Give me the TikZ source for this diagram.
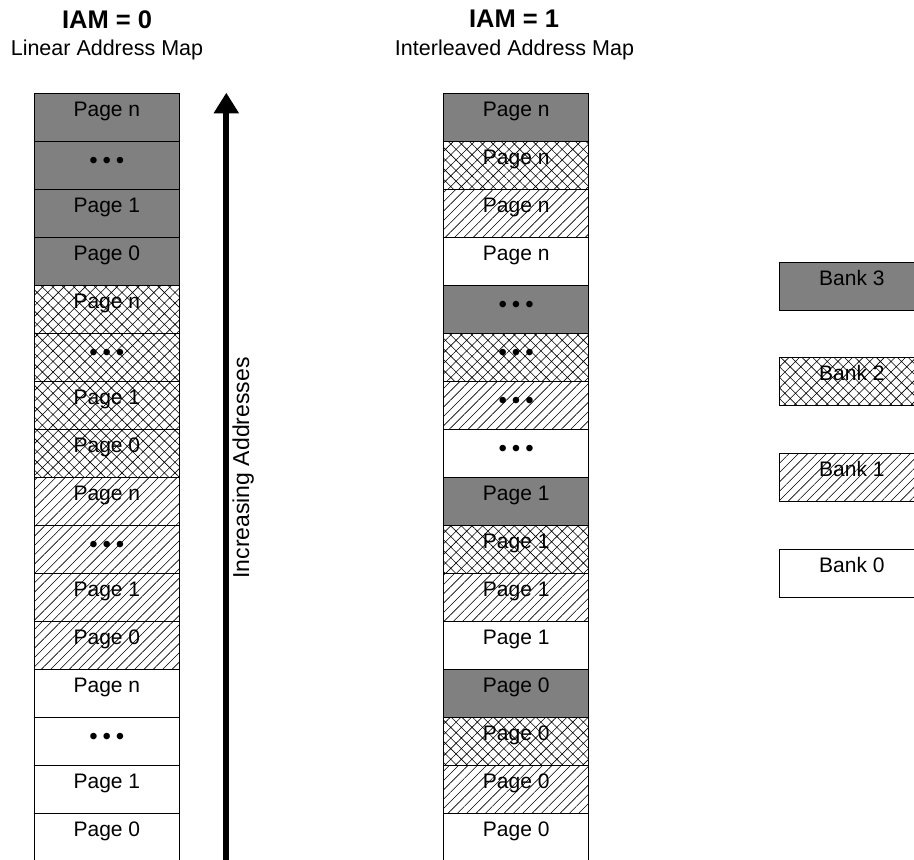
\documentclass[tikz,border=0pt]{standalone}
\usepackage{fontspec}
\setmainfont{Liberation Sans}
\usetikzlibrary{patterns.meta,arrows.meta}
\definecolor{bankgray}{HTML}{808080}
\newcommand\mydots{{\fontsize{24}{26}\selectfont\raisebox{-3.5pt}{•\kern4.9pt•\kern4.9pt•}}}
\begin{document}
\begin{tikzpicture}[x=1pt,y=-1pt,
 cell/.style={draw=black, line width=0.8pt, minimum width=145pt, minimum height=48pt, inner sep=0pt, anchor=north west, text height=10pt, text depth=12pt, font=\fontsize{21}{25}\selectfont},
 b3/.style={cell, fill=bankgray},
 b2/.style={cell, pattern={Hatch[angle=45,distance=7.5pt,line width=0.6pt]}},
 b1/.style={cell, pattern={Lines[angle=45,distance=6.6pt,line width=0.6pt]}},
 b0/.style={cell, fill=white},
 title/.style={anchor=base, inner sep=0pt, font=\bfseries\fontsize{25.5}{30}\selectfont},
 subtitle/.style={anchor=base, inner sep=0pt, font=\fontsize{21.5}{26}\selectfont},
]
\useasboundingbox (0,0) rectangle (914,860);

% titles
\node[title] (t0) at (107,28) {IAM = 0};
\node[subtitle] (s0) at (107,55) {Linear Address Map};
\node[title] (t1) at (514,27.5) {IAM = 1};
\node[subtitle] (s1) at (514.5,55) {Interleaved Address Map};

% left column (linear)
\node[b3] (L1) at (34,93.3) {Page n};
\node[b3] (L2) at (34,141.3) {\mydots};
\node[b3] (L3) at (34,189.3) {Page 1};
\node[b3] (L4) at (34,237.3) {Page 0};
\node[b2] (L5) at (34,285.3) {Page n};
\node[b2] (L6) at (34,333.3) {\mydots};
\node[b2] (L7) at (34,381.3) {Page 1};
\node[b2] (L8) at (34,429.3) {Page 0};
\node[b1] (L9) at (34,477.3) {Page n};
\node[b1] (L10) at (34,525.3) {\mydots};
\node[b1] (L11) at (34,573.3) {Page 1};
\node[b1] (L12) at (34,621.3) {Page 0};
\node[b0] (L13) at (34,669.3) {Page n};
\node[b0] (L14) at (34,717.3) {\mydots};
\node[b0] (L15) at (34,765.3) {Page 1};
\node[b0] (L16) at (34,813.3) {Page 0};

% middle column (interleaved)
\node[b3] (M1) at (443.3,93.3) {Page n};
\node[b2] (M2) at (443.3,141.3) {Page n};
\node[b1] (M3) at (443.3,189.3) {Page n};
\node[b0] (M4) at (443.3,237.3) {Page n};
\node[b3] (M5) at (443.3,285.3) {\mydots};
\node[b2] (M6) at (443.3,333.3) {\mydots};
\node[b1] (M7) at (443.3,381.3) {\mydots};
\node[b0] (M8) at (443.3,429.3) {\mydots};
\node[b3] (M9) at (443.3,477.3) {Page 1};
\node[b2] (M10) at (443.3,525.3) {Page 1};
\node[b1] (M11) at (443.3,573.3) {Page 1};
\node[b0] (M12) at (443.3,621.3) {Page 1};
\node[b3] (M13) at (443.3,669.3) {Page 0};
\node[b2] (M14) at (443.3,717.3) {Page 0};
\node[b1] (M15) at (443.3,765.3) {Page 0};
\node[b0] (M16) at (443.3,813.3) {Page 0};

% legend
\node[b3] (B3) at (779,261.7) {Bank 3};
\node[b2] (B2) at (779,357.3) {Bank 2};
\node[b1] (B1) at (779,453.3) {Bank 1};
\node[b0] (B0) at (779,549.3) {Bank 0};

% arrow
\coordinate (abot) at (226.3,875);
\coordinate (atop) at (226.3,92.7);
\draw[line width=6pt, -{Triangle[width=24pt,length=20.6pt]}] (abot) -- (atop);
\node[anchor=base, rotate=90, inner sep=0pt, font=\fontsize{23}{27}\selectfont] (inc) at (249,468) {Increasing Addresses};
\end{tikzpicture}
\end{document}
